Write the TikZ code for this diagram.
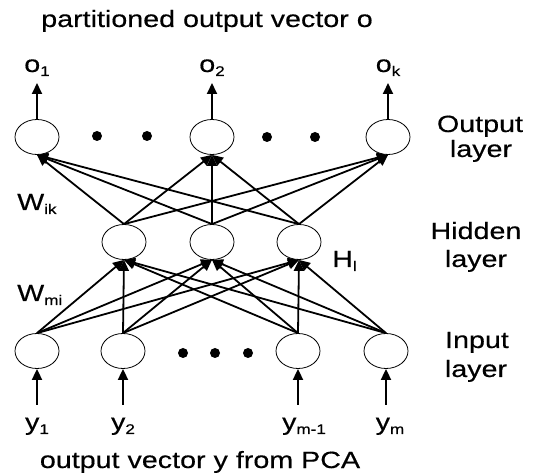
\documentclass[tikz,border=0pt]{standalone}
\usepackage{fontspec}
\setmainfont[FakeStretch=1.22,FakeBold=0.4]{Liberation Sans}
\usetikzlibrary{shapes.geometric,arrows.meta}
\newcommand\sbs[1]{\raisebox{-4pt}{\fontsize{14}{14}\selectfont #1}}
\begin{document}
\begin{tikzpicture}[x=1pt,y=-1pt,
 neuron/.style={ellipse,draw,line width=0.8pt,minimum width=44pt,minimum height=35pt,inner sep=0pt},
 conn/.style={line width=1.8pt,-{Triangle[length=11pt,width=10pt]}},
 dotnode/.style={circle,fill,inner sep=0pt,minimum size=10pt},
 lab/.style={anchor=base,inner sep=0pt,font=\fontsize{23.5}{28}\selectfont}]
\useasboundingbox (0,0) rectangle (539,473);
% nodes
\node[neuron] (out1) at (37,137) {};
\node[neuron] (out2) at (212,137) {};
\node[neuron] (out3) at (388,137) {};
\node[neuron] (hid1) at (124,242) {};
\node[neuron] (hid2) at (212,242) {};
\node[neuron] (hid3) at (299,242) {};
\node[neuron] (in1) at (37,351) {};
\node[neuron] (in2) at (123,351) {};
\node[neuron] (in3) at (298,351) {};
\node[neuron] (in4) at (386,351) {};
% dots
\node[dotnode] (d1) at (97,136) {};
\node[dotnode] (d2) at (147,136) {};
\node[dotnode] (d3) at (267,137) {};
\node[dotnode] (d4) at (315,137) {};
\node[dotnode] (d5) at (183,353) {};
\node[dotnode] (d6) at (215,353) {};
\node[dotnode] (d7) at (248,353) {};
% free ends
\coordinate (oa1) at (37,83);
\coordinate (oa2) at (212,83);
\coordinate (oa3) at (388,83);
\coordinate (ia1) at (37,405);
\coordinate (ia2) at (123,405);
\coordinate (ia3) at (298,405);
\coordinate (ia4) at (386,405);
% connectors
\foreach \i in {1,2,3}{\draw[conn] (out\i.north) -- (oa\i);}
\foreach \i in {1,2,3,4}{\draw[conn] (ia\i) -- (in\i.south);}
\foreach \h in {1,2,3}{\foreach \o in {1,2,3}{\draw[conn] (hid\h.north) -- (out\o.south);}}
\foreach \n in {1,2,3,4}{\foreach \h in {1,2,3}{\draw[conn] (in\n.north) -- (hid\h.south);}}
% labels
\node[lab] (title) at (207,27) {partitioned output vector o};
\node[lab] (lo1) at (37,72) {o\sbs{1}};
\node[lab] (lo2) at (212,72) {o\sbs{2}};
\node[lab] (lok) at (388,72) {o\sbs{k}};
\node[lab,anchor=base west] (wik) at (17,210) {W\sbs{ik}};
\node[lab,anchor=base west] (wmi) at (17,301) {W\sbs{mi}};
\node[lab,anchor=base west] (hl) at (332,267) {H\sbs{l}};
\node[lab] (ol1) at (480,132) {Output};
\node[lab] (ol2) at (481,157) {layer};
\node[lab] (hl1) at (476,239) {Hidden};
\node[lab] (hl2) at (476,267) {layer};
\node[lab] (il1) at (477,348) {Input};
\node[lab] (il2) at (476,377) {layer};
\node[lab] (ly1) at (37,430) {y\sbs{1}};
\node[lab] (ly2) at (123,430) {y\sbs{2}};
\node[lab] (ly3) at (304,430) {y\sbs{m-1}};
\node[lab] (ly4) at (390,430) {y\sbs{m}};
\node[lab] (bottom) at (200,468) {output vector y from PCA};
\end{tikzpicture}
\end{document}
